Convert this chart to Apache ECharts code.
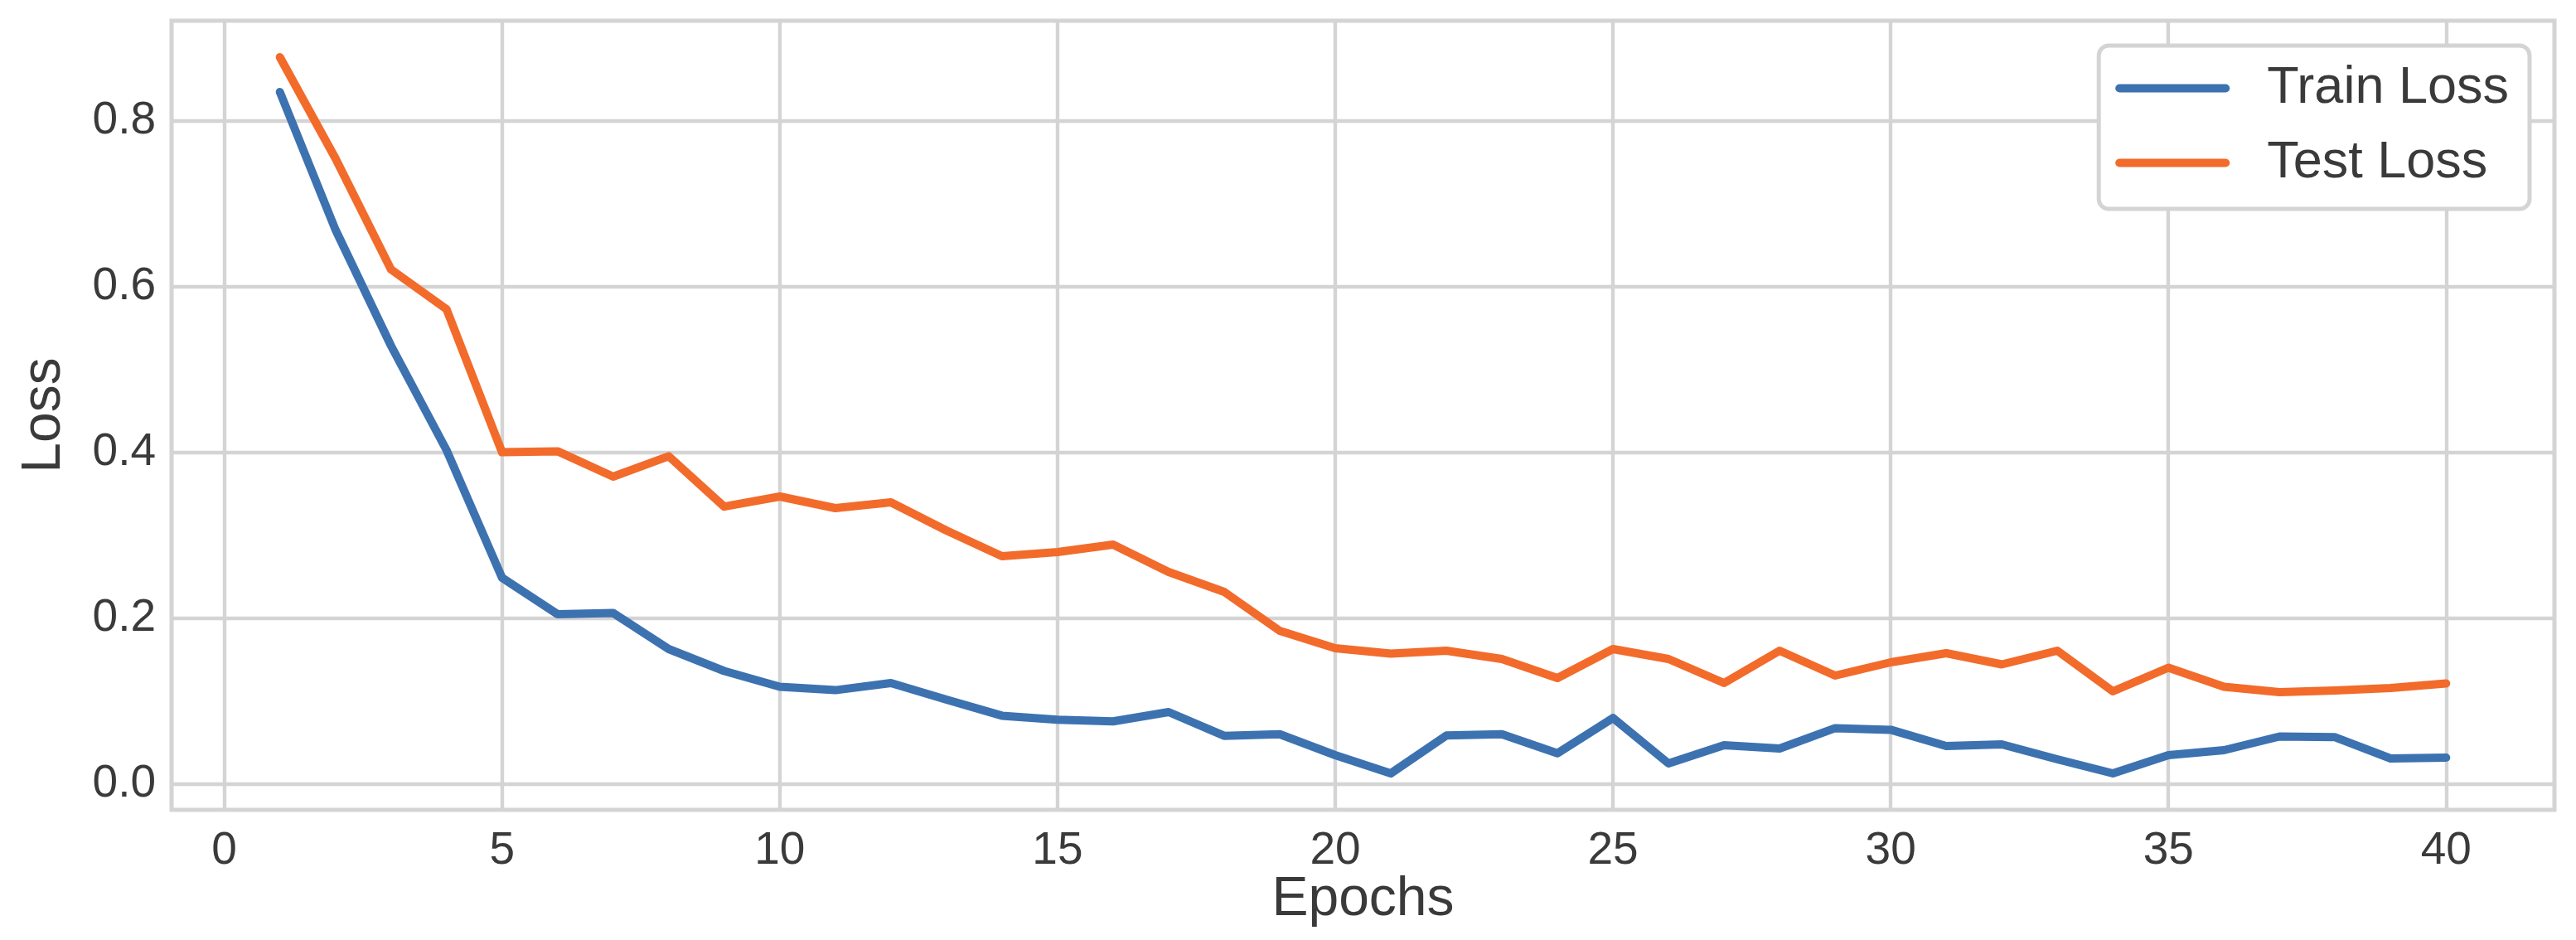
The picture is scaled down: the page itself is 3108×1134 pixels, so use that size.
<!DOCTYPE html>
<html>
<head>
<meta charset="utf-8">
<script src="https://cdn.jsdelivr.net/npm/echarts@6/dist/echarts.min.js"></script>
<style>
html,body{margin:0;padding:0;background:#fff;}
#chart{width:3108px;height:1134px;}
</style>
</head>
<body>
<div id="chart"></div>
<script>
const epochs = [1,2,3,4,5,6,7,8,9,10,11,12,13,14,15,16,17,18,19,20,21,22,23,24,25,26,27,28,29,30,31,32,33,34,35,36,37,38,39,40];
const trainLoss = [0.835,0.669,0.529,0.403,0.249,0.205,0.2065,0.163,0.1365,0.1175,0.1134,0.122,0.102,0.0826,0.0777,0.0757,0.087,0.0583,0.0603,0.035,0.013,0.0587,0.0603,0.0372,0.0798,0.025,0.047,0.043,0.0676,0.0656,0.046,0.048,0.030,0.013,0.035,0.041,0.0575,0.0567,0.031,0.032];
const testLoss = [0.877,0.755,0.621,0.573,0.4004,0.4016,0.371,0.3956,0.3348,0.347,0.333,0.340,0.306,0.275,0.280,0.289,0.256,0.232,0.185,0.164,0.1575,0.161,0.151,0.128,0.163,0.151,0.122,0.161,0.131,0.147,0.158,0.1445,0.161,0.112,0.1405,0.1174,0.111,0.113,0.116,0.1215];
const xTicks = [0,5,10,15,20,25,30,35,40];
const yTicks = [0,0.2,0.4,0.6,0.8];
const seriesNames = ['Train Loss','Test Loss'];
const seriesColors = ['#3d72b0','#f26b2b'];

const FONT = "'Liberation Sans', Arial, Helvetica, sans-serif";
const TXT = '#3a3a3a';
const GRIDC = '#d4d4d4';

const chart = echarts.init(document.getElementById('chart'), null, {renderer:'canvas', width:3108, height:1134});

function pairs(xs, ys){ return xs.map((x,i)=>[x, ys[i]]); }

const option = {
  backgroundColor: '#ffffff',
  animation: false,
  textStyle: {fontFamily: FONT, color: TXT},
  grid: {
    left: 207, right: 26, top: 25, bottom: 157,
    containLabel: false, outerBoundsMode: 'none',
    show: true, borderColor: GRIDC, borderWidth: 5, backgroundColor: 'transparent'
  },
  xAxis: {
    type: 'value', min: -0.95, max: 41.95,
    name: 'Epochs', nameLocation: 'middle', nameGap: 76, nameMoveOverlap: false,
    nameTextStyle: {fontSize: 66, color: TXT, fontFamily: FONT},
    axisLine: {show: false},
    axisTick: {show: false, customValues: xTicks},
    axisLabel: {customValues: xTicks, fontSize: 55, color: TXT, fontFamily: FONT, margin: 22,
      formatter: v => String(v)},
    splitLine: {show: true, lineStyle: {color: GRIDC, width: 4.4}}
  },
  yAxis: {
    type: 'value', min: -0.031, max: 0.921,
    name: 'Loss', nameLocation: 'middle', nameGap: 120, nameMoveOverlap: false,
    nameTextStyle: {fontSize: 66, color: TXT, fontFamily: FONT},
    axisLine: {show: false},
    axisTick: {show: false, customValues: yTicks},
    axisLabel: {customValues: yTicks, fontSize: 55, color: TXT, fontFamily: FONT, margin: 19,
      formatter: v => v.toFixed(1)},
    splitLine: {show: true, lineStyle: {color: GRIDC, width: 4.4}}
  },
  legend: {
    orient: 'vertical', right: 56, top: 55, align: 'left',
    padding: [20, 25, 24, 20],
    itemWidth: 138, itemHeight: 10.5, itemGap: 27,
    icon: 'path://M5,0 H133 A5,5 0 0 1 133,10 H5 A5,5 0 0 1 5,0 Z',
    backgroundColor: '#ffffff', borderColor: GRIDC, borderWidth: 5, borderRadius: 12,
    itemStyle: {borderWidth: 0},
    textStyle: {fontSize: 63, lineHeight: 63, color: TXT, fontFamily: FONT, padding: [0,0,0,40]},
    data: seriesNames
  },
  series: [
    {
      name: seriesNames[0], type: 'line', data: pairs(epochs, trainLoss),
      symbol: 'none', color: seriesColors[0], itemStyle: {color: seriesColors[0]},
      lineStyle: {color: seriesColors[0], width: 10, cap: 'round', join: 'round'},
      z: 3
    },
    {
      name: seriesNames[1], type: 'line', data: pairs(epochs, testLoss),
      symbol: 'none', color: seriesColors[1], itemStyle: {color: seriesColors[1]},
      lineStyle: {color: seriesColors[1], width: 10, cap: 'round', join: 'round'},
      z: 3
    }
  ]
};
chart.setOption(option);
</script>
</body>
</html>
